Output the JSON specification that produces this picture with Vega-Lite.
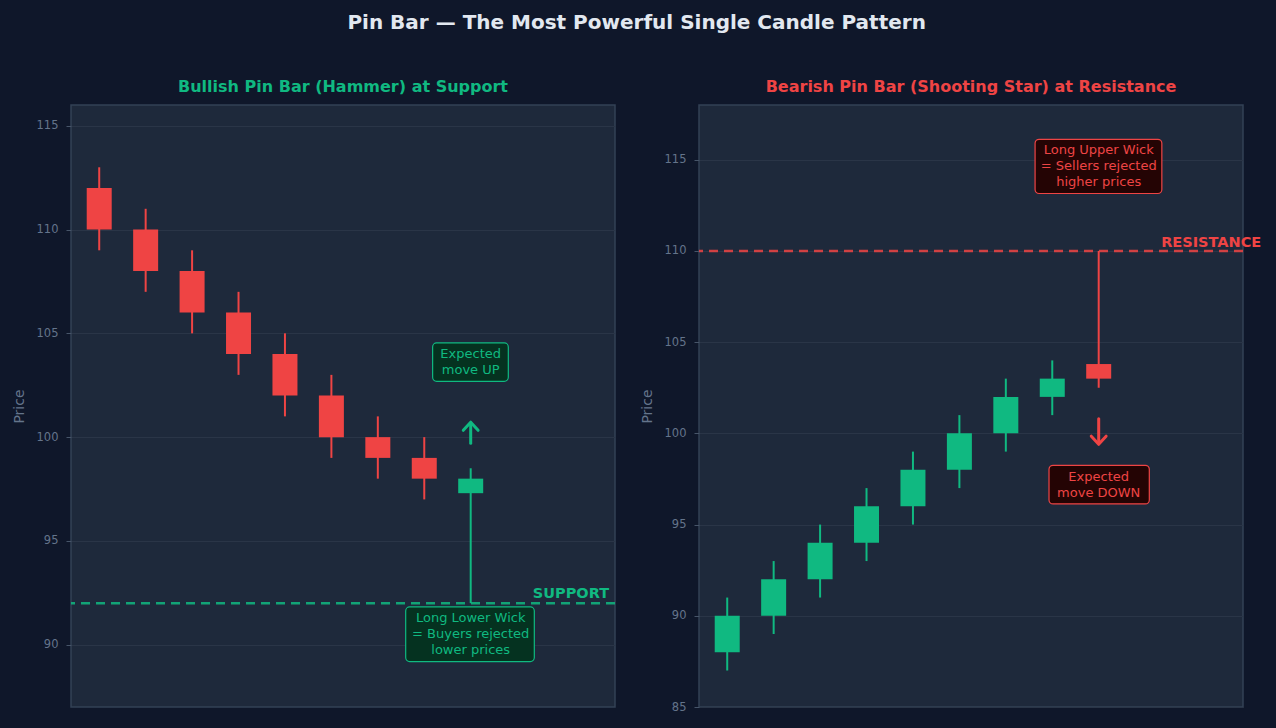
{
  "$schema": "https://vega.github.io/schema/vega-lite/v6.json",
  "description": "Pin bar candlestick pattern: bullish hammer at support and bearish shooting star at resistance.",
  "background": "#0f172a",
  "padding": {"left": 11, "top": 13, "right": 14, "bottom": 14},
  "title": {
    "text": "Pin Bar — The Most Powerful Single Candle Pattern",
    "fontSize": 20,
    "fontWeight": "bold",
    "color": "#e2e8f0",
    "anchor": "middle",
    "offset": 45
  },
  "datasets": {
    "bull": [
      {"idx": 0, "open": 112, "close": 110, "high": 113, "low": 109, "dir": "bear"},
      {"idx": 1, "open": 110, "close": 108, "high": 111, "low": 107, "dir": "bear"},
      {"idx": 2, "open": 108, "close": 106, "high": 109, "low": 105, "dir": "bear"},
      {"idx": 3, "open": 106, "close": 104, "high": 107, "low": 103, "dir": "bear"},
      {"idx": 4, "open": 104, "close": 102, "high": 105, "low": 101, "dir": "bear"},
      {"idx": 5, "open": 102, "close": 100, "high": 103, "low": 99, "dir": "bear"},
      {"idx": 6, "open": 100, "close": 99, "high": 101, "low": 98, "dir": "bear"},
      {"idx": 7, "open": 99, "close": 98, "high": 100, "low": 97, "dir": "bear"},
      {"idx": 8, "open": 97.3, "close": 98, "high": 98.5, "low": 92, "dir": "bull"}
    ],
    "bear": [
      {"idx": 0, "open": 88, "close": 90, "high": 91, "low": 87, "dir": "bull"},
      {"idx": 1, "open": 90, "close": 92, "high": 93, "low": 89, "dir": "bull"},
      {"idx": 2, "open": 92, "close": 94, "high": 95, "low": 91, "dir": "bull"},
      {"idx": 3, "open": 94, "close": 96, "high": 97, "low": 93, "dir": "bull"},
      {"idx": 4, "open": 96, "close": 98, "high": 99, "low": 95, "dir": "bull"},
      {"idx": 5, "open": 98, "close": 100, "high": 101, "low": 97, "dir": "bull"},
      {"idx": 6, "open": 100, "close": 102, "high": 103, "low": 99, "dir": "bull"},
      {"idx": 7, "open": 102, "close": 103, "high": 104, "low": 101, "dir": "bull"},
      {"idx": 8, "open": 103.8, "close": 103, "high": 110, "low": 102.5, "dir": "bear"}
    ],
    "bullNotes": [
      {"label": "Expected\nmove UP", "x1": 7.18, "x2": 8.81, "y1": 102.69, "y2": 104.54, "xc": 8, "yc": 103.99},
      {"label": "Long Lower Wick\n= Buyers rejected\nlower prices", "x1": 6.6, "x2": 9.37, "y1": 89.19, "y2": 91.82, "xc": 8, "yc": 91.27}
    ],
    "bearNotes": [
      {"label": "Long Upper Wick\n= Sellers rejected\nhigher prices", "x1": 6.63, "x2": 9.36, "y1": 113.15, "y2": 116.12, "xc": 8, "yc": 115.51},
      {"label": "Expected\nmove DOWN", "x1": 6.93, "x2": 9.09, "y1": 96.13, "y2": 98.25, "xc": 8, "yc": 97.63}
    ]
  },
  "spacing": 22,
  "hconcat": [
    {
      "width": 544,
      "height": 602,
      "title": {"text": "Bullish Pin Bar (Hammer) at Support", "color": "#10b981"},
      "layer": [
        {
          "data": {"name": "bull"},
          "mark": {"type": "rule", "strokeWidth": 2},
          "encoding": {
            "x": {"field": "idx", "type": "quantitative", "scale": {"domain": [-0.5, 11], "nice": false, "zero": false}, "axis": null},
            "y": {"field": "low", "type": "quantitative", "title": "Price", "scale": {"domain": [87, 116], "nice": false, "zero": false}, "axis": {"values": [90, 95, 100, 105, 110, 115]}},
            "y2": {"field": "high"},
            "color": {"field": "dir", "type": "nominal", "scale": {"domain": ["bull", "bear"], "range": ["#10b981", "#ef4444"]}, "legend": null}
          }
        },
        {
          "data": {"name": "bull"},
          "mark": {"type": "bar", "width": 25},
          "encoding": {
            "x": {"field": "idx", "type": "quantitative"},
            "y": {"field": "open", "type": "quantitative"},
            "y2": {"field": "close"},
            "color": {"field": "dir", "type": "nominal", "legend": null}
          }
        },
        {
          "data": {"values": [{"level": 92}]},
          "mark": {"type": "rule", "color": "#10b981", "strokeWidth": 2.5, "strokeDash": [9, 6], "opacity": 0.85},
          "encoding": {"y": {"field": "level", "type": "quantitative"}}
        },
        {
          "data": {"values": [{"level": 92, "pos": 10.98, "name": "SUPPORT"}]},
          "mark": {"type": "text", "align": "right", "baseline": "bottom", "dy": -2, "fontSize": 14.5, "fontWeight": "bold", "color": "#10b981"},
          "encoding": {
            "x": {"field": "pos", "type": "quantitative"},
            "y": {"field": "level", "type": "quantitative"},
            "text": {"field": "name"}
          }
        },
        {
          "data": {"values": [{"xc": 8, "from": 99.7, "to": 100.65}]},
          "mark": {"type": "rule", "color": "#10b981", "strokeWidth": 3, "strokeCap": "round"},
          "encoding": {
            "x": {"field": "xc", "type": "quantitative"},
            "y": {"field": "from", "type": "quantitative"},
            "y2": {"field": "to"}
          }
        },
        {
          "data": {"values": [{"xc": 8, "tip": 100.72}]},
          "mark": {"type": "point", "shape": "M-1,1.1L0,0L1,1.1", "filled": false, "size": 220, "strokeWidth": 3, "strokeCap": "round", "strokeJoin": "round", "color": "#10b981", "opacity": 1},
          "encoding": {
            "x": {"field": "xc", "type": "quantitative"},
            "y": {"field": "tip", "type": "quantitative"}
          }
        },
        {
          "data": {"name": "bullNotes"},
          "mark": {"type": "rect", "fill": "#053220", "stroke": "#10b981", "strokeWidth": 1.2, "cornerRadius": 4},
          "encoding": {
            "x": {"field": "x1", "type": "quantitative"},
            "x2": {"field": "x2"},
            "y": {"field": "y1", "type": "quantitative"},
            "y2": {"field": "y2"}
          }
        },
        {
          "data": {"name": "bullNotes"},
          "mark": {"type": "text", "lineBreak": "\n", "fontSize": 13, "lineHeight": 16, "color": "#10b981", "align": "center", "baseline": "middle"},
          "encoding": {
            "x": {"field": "xc", "type": "quantitative"},
            "y": {"field": "yc", "type": "quantitative"},
            "text": {"field": "label"}
          }
        }
      ]
    },
    {
      "width": 544,
      "height": 602,
      "title": {"text": "Bearish Pin Bar (Shooting Star) at Resistance", "color": "#ef4444"},
      "layer": [
        {
          "data": {"name": "bear"},
          "mark": {"type": "rule", "strokeWidth": 2},
          "encoding": {
            "x": {"field": "idx", "type": "quantitative", "scale": {"domain": [-0.5, 11], "nice": false, "zero": false}, "axis": null},
            "y": {"field": "low", "type": "quantitative", "title": "Price", "scale": {"domain": [85, 118], "nice": false, "zero": false}, "axis": {"values": [85, 90, 95, 100, 105, 110, 115]}},
            "y2": {"field": "high"},
            "color": {"field": "dir", "type": "nominal", "scale": {"domain": ["bull", "bear"], "range": ["#10b981", "#ef4444"]}, "legend": null}
          }
        },
        {
          "data": {"name": "bear"},
          "mark": {"type": "bar", "width": 25},
          "encoding": {
            "x": {"field": "idx", "type": "quantitative"},
            "y": {"field": "open", "type": "quantitative"},
            "y2": {"field": "close"},
            "color": {"field": "dir", "type": "nominal", "legend": null}
          }
        },
        {
          "data": {"values": [{"level": 110}]},
          "mark": {"type": "rule", "color": "#ef4444", "strokeWidth": 2.5, "strokeDash": [9, 6], "opacity": 0.85},
          "encoding": {"y": {"field": "level", "type": "quantitative"}}
        },
        {
          "data": {"values": [{"level": 110, "pos": 11.5, "name": "RESISTANCE"}]},
          "mark": {"type": "text", "align": "right", "baseline": "bottom", "dy": -1, "fontSize": 14.5, "fontWeight": "bold", "color": "#ef4444"},
          "encoding": {
            "x": {"field": "pos", "type": "quantitative"},
            "y": {"field": "level", "type": "quantitative"},
            "text": {"field": "name"}
          }
        },
        {
          "data": {"values": [{"xc": 8, "from": 100.8, "to": 99.5}]},
          "mark": {"type": "rule", "color": "#ef4444", "strokeWidth": 3, "strokeCap": "round"},
          "encoding": {
            "x": {"field": "xc", "type": "quantitative"},
            "y": {"field": "from", "type": "quantitative"},
            "y2": {"field": "to"}
          }
        },
        {
          "data": {"values": [{"xc": 8, "tip": 99.4}]},
          "mark": {"type": "point", "shape": "M-1,-1.1L0,0L1,-1.1", "filled": false, "size": 220, "strokeWidth": 3, "strokeCap": "round", "strokeJoin": "round", "color": "#ef4444", "opacity": 1},
          "encoding": {
            "x": {"field": "xc", "type": "quantitative"},
            "y": {"field": "tip", "type": "quantitative"}
          }
        },
        {
          "data": {"name": "bearNotes"},
          "mark": {"type": "rect", "fill": "#240404", "stroke": "#ef4444", "strokeWidth": 1.2, "cornerRadius": 4},
          "encoding": {
            "x": {"field": "x1", "type": "quantitative"},
            "x2": {"field": "x2"},
            "y": {"field": "y1", "type": "quantitative"},
            "y2": {"field": "y2"}
          }
        },
        {
          "data": {"name": "bearNotes"},
          "mark": {"type": "text", "lineBreak": "\n", "fontSize": 13, "lineHeight": 16, "color": "#ef4444", "align": "center", "baseline": "middle"},
          "encoding": {
            "x": {"field": "xc", "type": "quantitative"},
            "y": {"field": "yc", "type": "quantitative"},
            "text": {"field": "label"}
          }
        }
      ]
    }
  ],
  "config": {
    "font": "DejaVu Sans",
    "view": {"fill": "#1e293b", "stroke": "#334155", "strokeWidth": 1.5},
    "title": {"fontSize": 16, "fontWeight": "bold", "offset": 10, "anchor": "middle"},
    "axis": {
      "domain": false,
      "grid": true,
      "gridColor": "#2a3547",
      "gridWidth": 1,
      "tickColor": "#475569",
      "tickSize": 5,
      "labelColor": "#64748b",
      "labelFontSize": 11.5,
      "labelPadding": 8,
      "titleColor": "#64748b",
      "titleFontSize": 14,
      "titleFontWeight": "normal",
      "titlePadding": 10
    }
  }
}
